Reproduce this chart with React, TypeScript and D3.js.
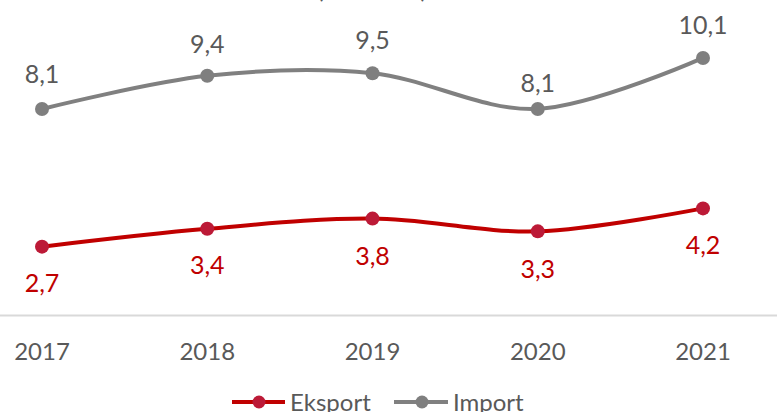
import React from "react";
import * as d3 from "d3";

const years = ["2017", "2018", "2019", "2020", "2021"];
const eksport = [2.7, 3.4, 3.8, 3.3, 4.2];
const impor = [8.1, 9.4, 9.5, 8.1, 10.1];
const seriesNames = ["Eksport", "Import"];
const titleText = "(mld USD)";

const W = 777;
const H = 412;
const FONT = "Lato, 'Open Sans', sans-serif";
const RED = "#C00000";
const RED_MARK = "#BC1A37";
const GRAY = "#808080";
const GRAY_MARK = "#7F7F7F";
const TEXT = "#595959";

// label baseline offsets (px) relative to point
const importLabelDy = [-26, -23, -24, -17, -24];
const eksportLabelDy = [45, 45, 46, 47, 46];

export default function App() {
  const x = d3.scalePoint<string>().domain(years).range([42, 703]);
  const y = d3.scaleLinear().domain([0, 12]).range([315.5, 9.5]);
  const line = d3
    .line<number>()
    .x((_, i) => x(years[i]) as number)
    .y((d) => y(d))
    .curve(d3.curveCardinal.tension(0));

  const axisY = y(0);

  return (
    <svg
      width={W}
      height={H}
      style={{ position: "absolute", left: 0, top: 0, display: "block", background: "#fff" }}
      fontFamily={FONT}
    >
      <rect width={W} height={H} fill="#fff" />
      <text x={372} y={-2} textAnchor="middle" fontSize={25} fill={TEXT}>
        {titleText}
      </text>
      <line x1={0} x2={W} y1={axisY} y2={axisY} stroke="#D9D9D9" strokeWidth={2} />
      {years.map((yr) => (
        <text key={yr} x={x(yr)} y={360} textAnchor="middle" fontSize={24} fill={TEXT}>
          {yr}
        </text>
      ))}
      <path d={line(impor) || ""} fill="none" stroke={GRAY} strokeWidth={4} strokeLinecap="round" />
      <path d={line(eksport) || ""} fill="none" stroke={RED} strokeWidth={4} strokeLinecap="round" />
      {impor.map((v, i) => (
        <g key={"i" + i}>
          <circle cx={x(years[i])} cy={y(v)} r={7} fill={GRAY_MARK} />
          <text
            x={x(years[i])}
            y={y(v) + importLabelDy[i]}
            textAnchor="middle"
            fontSize={25}
            fill={TEXT}
          >
            {v.toFixed(1).replace(".", ",")}
          </text>
        </g>
      ))}
      {eksport.map((v, i) => (
        <g key={"e" + i}>
          <circle cx={x(years[i])} cy={y(v)} r={7} fill={RED_MARK} />
          <text
            x={x(years[i])}
            y={y(v) + eksportLabelDy[i]}
            textAnchor="middle"
            fontSize={25}
            fill={RED}
          >
            {v.toFixed(1).replace(".", ",")}
          </text>
        </g>
      ))}
      {/* legend */}
      <g>
        <line x1={232} x2={285} y1={402} y2={402} stroke={RED} strokeWidth={4} />
        <circle cx={259} cy={402} r={6.5} fill={RED_MARK} />
        <text x={290} y={411} fontSize={24} fill={TEXT}>
          {seriesNames[0]}
        </text>
        <line x1={394} x2={448} y1={402} y2={402} stroke={GRAY} strokeWidth={4} />
        <circle cx={422} cy={402} r={6.5} fill={GRAY_MARK} />
        <text x={453} y={411} fontSize={24} fill={TEXT}>
          {seriesNames[1]}
        </text>
      </g>
    </svg>
  );
}
